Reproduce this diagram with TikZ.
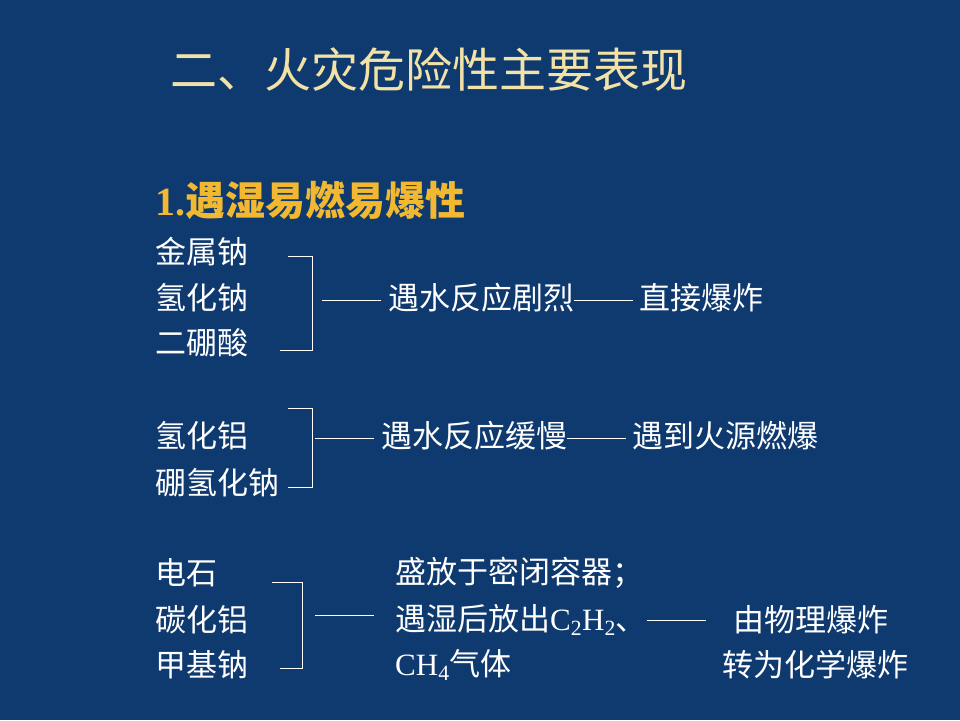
\documentclass[tikz,border=0pt]{standalone}
\usepackage{fontspec}
\setmainfont{Liberation Serif}
\newfontfamily\cjk{Noto Sans CJK SC}
\definecolor{bg}{HTML}{0F3A70}
\definecolor{ttl}{HTML}{F2E2A6}
\definecolor{gold}{HTML}{F2B930}
\newcommand{\dl}{\rule[0.3em]{1.9em}{0.8pt}}
\begin{document}
\begin{tikzpicture}[x=1pt,y=-1pt,
  body/.style={anchor=west,inner sep=0,text=white,font=\fontsize{31}{34}\selectfont\cjk},
  br/.style={draw=white,line width=0.8pt}]
\fill[bg] (0,0) rectangle (960,720);
\useasboundingbox (0,0) rectangle (960,720);
\node[anchor=west,inner sep=0,text=ttl,font=\fontsize{47}{50}\selectfont\cjk] (t) at (170,70) {二、火灾危险性主要表现};
\node[anchor=west,inner sep=0,text=gold,font=\fontsize{40}{44}\selectfont\bfseries] (h) at (155,200) {1.{\cjk 遇湿易燃易爆性}};
\node[body] (a1) at (155,252) {金属钠};
\node[body] (a2) at (155,298) {氢化钠};
\node[body] (a3) at (155,343) {二硼酸};
\node[body] (a4) at (322,298) {\dl\ 遇水反应剧烈\dl\ 直接爆炸};
\draw[br] (288,256) -- (312,256) -- (312,350) -- (280,350);
\node[body] (b1) at (155,436) {氢化铝};
\node[body] (b2) at (155,483) {硼氢化钠};
\node[body] (b3) at (315,436) {\dl\ 遇水反应缓慢\dl\ 遇到火源燃爆};
\draw[br] (288,408) -- (312,408) -- (312,487) -- (288,487);
\node[body] (c1) at (155,573) {电石};
\node[body] (c2) at (155,620) {碳化铝};
\node[body] (c3) at (155,665) {甲基钠};
\node[body] (c4) at (315,620) {\dl};
\node[body] (d1) at (395,573) {盛放于密闭容器；};
\node[body] (d2) at (395,620) {遇湿后放出{\rmfamily C\textsubscript{2}H\textsubscript{2}}、\dl};
\node[body] (d3) at (395,665) {{\rmfamily CH\textsubscript{4}}气体};
\node[body] (e1) at (733,620) {由物理爆炸};
\node[body] (e2) at (722,665) {转为化学爆炸};
\draw[br] (272,582) -- (302,582) -- (302,668) -- (280,668);
\end{tikzpicture}
\end{document}
